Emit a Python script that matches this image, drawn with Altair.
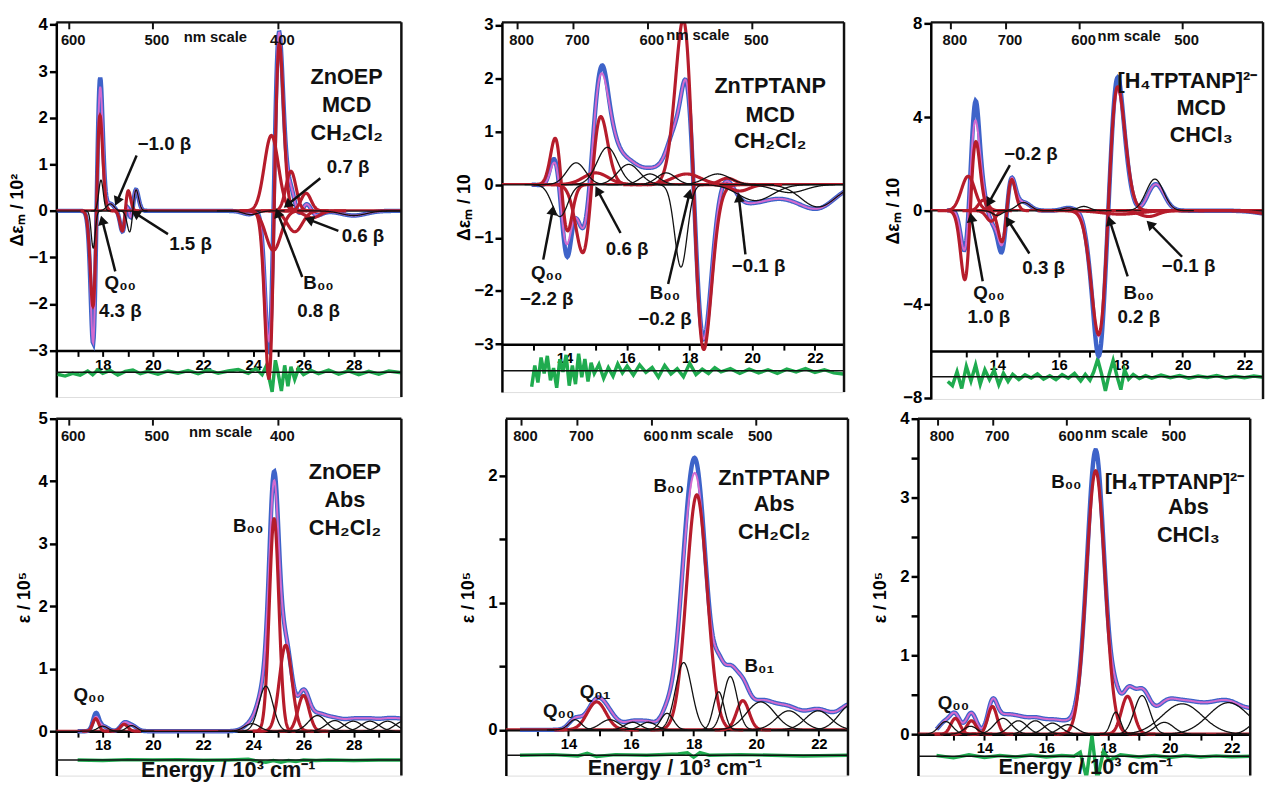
import numpy as np
import pandas as pd
import altair as alt

alt.data_transformers.disable_max_rows()

FONT = "Liberation Sans"
BLUE = "#3e63c9"
PINK = "#d36bcf"
RED = "#b61c2b"
GREEN = "#1fab4f"
BLACK = "#111111"

# ---------------- Panel 1 : ZnOEP MCD ----------------
p1_type   = ["A", "G", "G", "A", "A", "G", "A", "G", "G", "G", "G", "G", "G", "G", "G"]
p1_color  = ["red", "black", "black", "red", "black", "black", "red", "red", "red", "red", "red", "red", "red", "black", "black"]
p1_center = [17.75, 17.93, 17.62, 18.90, 19.20, 18.30, 24.83, 24.72, 24.80, 25.50, 26.10, 25.65, 26.35, 28.00, 23.90]
p1_amp    = [2.05, 0.66, -0.80, 0.43, 0.45, 0.15, 3.60, 1.62, -0.85, 0.85, 0.38, -0.45, -0.15, -0.10, -0.08]
p1_width  = [0.14, 0.09, 0.08, 0.12, 0.13, 0.15, 0.21, 0.28, 0.30, 0.20, 0.20, 0.30, 0.30, 0.50, 0.30]
p1_dev_center = [17.89, 24.60]
p1_dev_amp    = [0.20, -0.22]
p1_dev_width  = [0.06, 0.10]
p1_res_x = [16.2, 16.5, 16.8, 17.1, 17.4, 17.6, 17.8, 18.0, 18.3, 18.6, 18.9, 19.2, 19.5, 19.8, 20.2, 20.6,
            21.0, 21.4, 21.8, 22.2, 22.6, 23.0, 23.4, 23.8, 24.1, 24.35, 24.5, 24.62, 24.75, 24.88, 25.0, 25.12,
            25.25, 25.38, 25.5, 25.65, 25.8, 26.0, 26.3, 26.6, 27.0, 27.4, 27.8, 28.2, 28.6, 29.0, 29.4, 29.9]
p1_res_y = [-0.04, -0.08, -0.02, -0.06, 0.03, -0.05, 0.05, -0.02, 0.04, -0.06, 0.02, 0.05, -0.03, 0.02, -0.04, 0.03,
            -0.02, 0.04, -0.03, 0.05, -0.02, 0.03, 0.06, -0.02, 0.08, -0.05, 0.12, -0.10, -0.42, 0.26, -0.05, -0.40,
            0.15, -0.30, 0.12, -0.15, 0.08, -0.05, 0.04, -0.03, 0.05, -0.04, 0.03, -0.05, 0.02, -0.04, 0.03, -0.01]
p1_text   = ["ZnOEP", "MCD", "CH₂Cl₂", "−1.0 β", "1.5 β", "Q₀₀", "4.3 β", "0.7 β", "0.6 β", "B₀₀", "0.8 β", "nm scale"]
p1_text_x = [27.72, 27.72, 27.72, 20.46, 21.5, 18.7, 18.7, 27.78, 28.37, 26.6, 26.6, 22.49]
p1_text_y = [2.88, 2.28, 1.68, 1.44, -0.72, -1.56, -2.16, 0.94, -0.54, -1.56, -2.16, 3.73]
p1_text_size = [22, 22, 22, 19, 19, 19, 19, 19, 19, 19, 19, 15]
p1_arrow_x0 = [19.35, 20.60, 18.50, 26.67, 27.39, 25.95]
p1_arrow_y0 = [1.19, -0.50, -1.30, 0.70, -0.43, -1.42]
p1_arrow_x1 = [18.57, 19.30, 17.98, 25.36, 26.22, 24.97]
p1_arrow_y1 = [0.20, -0.05, -0.20, 0.13, -0.19, -0.04]
p1_nm = [600, 500, 400]

# ---------------- Panel 2 : ZnTPTANP MCD ----------------
p2_type   = ["A", "G", "A", "G", "G", "G", "G", "G", "G", "G", "A", "G", "G", "G", "G", "G", "G", "G"]
p2_color  = ["red", "black", "red", "black", "red", "black", "black", "black", "black", "black", "red", "red",
             "black", "red", "red", "black", "black", "black"]
p2_center = [13.90, 13.85, 14.87, 14.37, 15.00, 15.37, 16.05, 16.73, 17.25, 17.72, 18.12, 17.90, 18.89, 19.20, 19.60, 20.10, 21.20, 22.10]
p2_amp    = [-0.87, -0.60, 1.28, 0.41, 0.22, 0.70, 0.38, 0.20, 0.22, -1.55, -3.10, 0.20, 0.20, 0.12, -0.12, -0.30, -0.15, -0.42]
p2_width  = [0.20, 0.25, 0.29, 0.30, 0.40, 0.33, 0.35, 0.30, 0.30, 0.20, 0.33, 0.45, 0.40, 0.25, 0.30, 0.55, 0.50, 0.55]
p2_dev_center = [15.25, 14.12, 13.60]
p2_dev_amp    = [0.16, -0.25, 0.08]
p2_dev_width  = [0.12, 0.10, 0.10]
p2_res_x = [12.95, 13.05, 13.15, 13.25, 13.35, 13.45, 13.55, 13.65, 13.75, 13.85, 13.95, 14.05, 14.15, 14.25, 14.35,
            14.45, 14.55, 14.65, 14.75, 14.85, 14.95, 15.1, 15.25, 15.4, 15.55, 15.7, 15.85, 16.0, 16.2, 16.4, 16.6,
            16.8, 17.0, 17.2, 17.4, 17.6, 17.8, 18.0, 18.2, 18.4, 18.6, 18.8, 19.0, 19.3, 19.6, 19.9, 20.2, 20.5,
            20.8, 21.1, 21.4, 21.7, 22.0, 22.3, 22.6, 22.9]
p2_res_y = [-0.30, 0.10, -0.22, 0.25, -0.05, 0.28, -0.18, 0.05, -0.32, 0.22, -0.02, 0.30, -0.28, 0.10, -0.25,
            0.32, -0.12, 0.22, -0.20, 0.15, -0.05, 0.12, -0.14, 0.06, -0.10, 0.13, -0.04, 0.09, -0.08, 0.11, -0.03,
            0.06, -0.12, 0.10, -0.06, 0.04, -0.11, 0.14, -0.07, 0.03, -0.05, 0.06, -0.02, 0.04, -0.05, 0.03, -0.04,
            0.02, -0.05, 0.03, -0.02, 0.04, -0.03, 0.02, -0.04, -0.06]
p2_text   = ["ZnTPTANP", "MCD", "CH₂Cl₂", "Q₀₀", "−2.2 β", "0.6 β", "B₀₀", "−0.2 β", "−0.1 β", "nm scale"]
p2_text_x = [20.57, 20.57, 20.57, 13.43, 13.43, 16.0, 17.21, 17.21, 20.2, 18.26]
p2_text_y = [1.86, 1.31, 0.81, -1.66, -2.15, -1.22, -2.03, -2.52, -1.53, 2.81]
p2_text_size = [22, 22, 22, 19, 19, 19, 19, 19, 19, 15]
p2_arrow_x0 = [13.32, 15.79, 17.31, 19.78]
p2_arrow_y0 = [-1.41, -0.91, -1.87, -1.31]
p2_arrow_x1 = [13.62, 15.06, 17.99, 19.57]
p2_arrow_y1 = [-0.48, -0.11, -0.17, -0.24]
p2_nm = [800, 700, 600, 500]

# ---------------- Panel 3 : [H4TPTANP]2- MCD ----------------
p3_type   = ["A", "G", "G", "G", "A", "G", "G", "G", "G", "A", "G", "G", "G", "G"]
p3_color  = ["red", "red", "red", "red", "red", "black", "black", "black", "black", "red", "red", "red", "black", "red"]
p3_center = [13.13, 13.06, 13.55, 13.80, 14.31, 14.85, 14.00, 16.30, 16.80, 17.59, 18.00, 18.90, 19.10, 23.20]
p3_amp    = [2.95, 1.47, 0.45, -0.45, 1.33, 0.35, -0.20, 0.12, 0.18, 5.30, -0.15, -0.25, 1.35, -0.20]
p3_width  = [0.18, 0.22, 0.15, 0.15, 0.16, 0.22, 0.15, 0.20, 0.20, 0.31, 0.60, 0.30, 0.28, 0.60]
p3_dev_center = [17.90, 17.28, 13.32, 14.12]
p3_dev_amp    = [0.55, -0.85, 0.85, -0.30]
p3_dev_width  = [0.12, 0.12, 0.09, 0.10]
p3_res_x = [12.4, 12.55, 12.7, 12.85, 13.0, 13.15, 13.3, 13.45, 13.6, 13.75, 13.9, 14.05, 14.2, 14.35, 14.5,
            14.7, 14.9, 15.1, 15.3, 15.5, 15.7, 15.9, 16.1, 16.3, 16.5, 16.7,
            16.85, 17.0, 17.12, 17.25, 17.38, 17.5, 17.62, 17.75, 17.88, 18.0, 18.12, 18.25,
            18.4, 18.6, 18.8, 19.0, 19.3, 19.6, 19.9, 20.2, 20.5, 20.8, 21.1, 21.4, 21.7, 22.0, 22.3, 22.6]
p3_res_y = [-0.20, -0.38, 0.22, -0.50, 0.45, -0.18, 0.50, -0.32, 0.30, -0.12, 0.28, -0.34, 0.15, -0.20, 0.10,
            -0.12, 0.08, -0.05, 0.12, -0.10, 0.04, -0.12, 0.09, -0.06, 0.14, -0.18,
            0.10, -0.15, 0.20, 0.75, 0.10, -0.60, 0.10, 0.70, 0.00, -0.55, 0.30, -0.10,
            0.10, -0.08, 0.05, -0.06, 0.07, -0.04, 0.05, -0.06, 0.03, -0.03, 0.05, -0.05, 0.02, -0.04, 0.03, -0.02]
p3_text   = ["[H₄TPTANP]²⁻", "MCD", "CHCl₃", "−0.2 β", "0.3 β", "Q₀₀", "1.0 β", "B₀₀", "0.2 β", "−0.1 β", "nm scale"]
p3_text_x = [20.15, 20.6, 20.6, 15.09, 15.5, 13.73, 13.73, 18.58, 18.58, 20.19, 18.27]
p3_text_y = [5.52, 4.40, 3.21, 2.44, -2.46, -3.51, -4.56, -3.51, -4.56, -2.39, 7.46]
p3_text_size = [22, 22, 22, 19, 19, 19, 19, 19, 19, 19, 15]
p3_arrow_x0 = [14.41, 15.04, 13.53, 18.22, 19.98]
p3_arrow_y0 = [1.95, -1.83, -3.02, -2.81, -1.97]
p3_arrow_x1 = [13.73, 14.36, 13.16, 17.64, 18.94]
p3_arrow_y1 = [0.34, -0.43, -0.29, -0.43, -0.57]
p3_nm = [800, 700, 600, 500]

# ---------------- Panel 4 : ZnOEP Abs ----------------
p4_type   = ["G"] * 15
p4_color  = ["red", "black", "red", "black", "black", "black", "red", "red", "red", "black", "black", "black", "black", "black", "black"]
p4_center = [17.72, 18.00, 18.85, 19.15, 23.95, 24.50, 24.83, 25.29, 26.00, 26.55, 27.25, 27.98, 28.65, 29.35, 30.00]
p4_amp    = [0.20, 0.08, 0.11, 0.09, 0.12, 0.72, 3.40, 1.375, 0.57, 0.25, 0.17, 0.16, 0.16, 0.16, 0.16]
p4_width  = [0.12, 0.20, 0.15, 0.20, 0.30, 0.28, 0.19, 0.25, 0.22, 0.35, 0.35, 0.35, 0.35, 0.35, 0.35]
p4_dev_center = [24.83, 17.74]
p4_dev_amp    = [0.14, 0.06]
p4_dev_width  = [0.15, 0.10]
p4_res_x = [17.0, 18.0, 19.0, 20.0, 21.0, 22.0, 23.0, 23.8, 24.2, 24.5, 24.8, 25.1, 25.4, 25.7, 26.0, 26.5, 27.0, 28.0, 29.0, 29.9]
p4_res_y = [0.0, -0.01, 0.005, 0.0, 0.005, -0.005, 0.0, 0.01, -0.02, -0.035, -0.01, -0.035, -0.01, -0.025, 0.0, -0.01, 0.0, -0.01, 0.0, 0.0]
p4_text   = ["ZnOEP", "Abs", "CH₂Cl₂", "B₀₀", "Q₀₀", "Energy / 10³ cm⁻¹", "nm scale"]
p4_text_x = [27.65, 27.65, 27.65, 23.8, 17.46, 23.0, 22.7]
p4_text_y = [4.14, 3.69, 3.25, 3.28, 0.57, -0.62, 4.78]
p4_text_size = [22, 22, 22, 19, 19, 22, 15]
p4_arrow_x0, p4_arrow_y0, p4_arrow_x1, p4_arrow_y1 = [], [], [], []
p4_nm = [600, 500, 400]

# ---------------- Panel 5 : ZnTPTANP Abs ----------------
p5_type   = ["G"] * 15
p5_color  = ["black", "red", "black", "black", "black", "black", "black", "red", "black", "black", "red", "black", "black", "black", "black"]
p5_center = [14.21, 14.90, 15.32, 16.05, 16.55, 17.15, 17.68, 18.10, 18.80, 19.17, 19.57, 20.14, 21.04, 21.98, 23.05]
p5_amp    = [0.08, 0.22, 0.08, 0.06, 0.06, 0.13, 0.53, 1.85, 0.30, 0.42, 0.23, 0.22, 0.15, 0.15, 0.20]
p5_width  = [0.20, 0.30, 0.30, 0.25, 0.25, 0.20, 0.26, 0.33, 0.17, 0.22, 0.20, 0.45, 0.40, 0.40, 0.40]
p5_dev_center = [18.00]
p5_dev_amp    = [0.12]
p5_dev_width  = [0.20]
p5_res_x = [12.45, 13.5, 14.3, 14.6, 14.9, 15.5, 16.5, 17.5, 17.8, 18.0, 18.2, 18.5, 19.5, 20.5, 21.5, 22.93]
p5_res_y = [0.0, 0.005, -0.005, 0.015, -0.01, 0.005, 0.0, 0.01, 0.02, -0.015, 0.02, 0.0, 0.005, 0.0, -0.005, 0.0]
p5_text   = ["ZnTPTANP", "Abs", "CH₂Cl₂", "B₀₀", "B₀₁", "Q₀₁", "Q₀₀", "Energy / 10³ cm⁻¹", "nm scale"]
p5_text_x = [20.57, 20.57, 20.57, 17.2, 20.1, 14.85, 13.69, 17.4, 18.26]
p5_text_y = [1.98, 1.78, 1.56, 1.92, 0.50, 0.30, 0.15, -0.30, 2.33]
p5_text_size = [22, 22, 22, 19, 19, 19, 19, 22, 15]
p5_arrow_x0, p5_arrow_y0, p5_arrow_x1, p5_arrow_y1 = [], [], [], []
p5_nm = [800, 700, 600, 500]

# ---------------- Panel 6 : [H4TPTANP]2- Abs ----------------
p6_type   = ["G"] * 18
p6_color  = ["black", "red", "black", "red", "red", "black", "black", "black", "black", "black", "red", "black", "red",
             "black", "black", "black", "black", "black"]
p6_center = [12.75, 13.06, 13.55, 13.58, 14.26, 14.60, 15.10, 15.65, 16.20, 16.70, 17.60, 18.25, 18.63, 19.10, 19.82, 20.40, 21.90, 22.85]
p6_amp    = [0.16, 0.20, 0.10, 0.17, 0.35, 0.20, 0.17, 0.17, 0.14, 0.12, 3.34, 0.28, 0.48, 0.49, 0.15, 0.385, 0.40, 0.15]
p6_width  = [0.22, 0.15, 0.22, 0.15, 0.15, 0.28, 0.28, 0.28, 0.28, 0.28, 0.30, 0.15, 0.20, 0.25, 0.30, 0.65, 0.65, 0.30]
p6_dev_center = [17.60]
p6_dev_amp    = [0.26]
p6_dev_width  = [0.15]
p6_res_x = [12.45, 13.0, 13.5, 14.0, 14.5, 15.0, 15.5, 16.0, 16.5, 16.9, 17.1, 17.3, 17.48, 17.65, 17.85, 18.05,
            18.4, 19.0, 19.5, 20.0, 20.5, 21.0, 21.5, 22.0, 22.6]
p6_res_y = [0.01, -0.02, 0.02, -0.015, 0.01, -0.01, 0.015, -0.01, 0.01, 0.0, 0.05, -0.27, 0.26, -0.30, 0.06, -0.05,
            0.02, -0.01, 0.01, -0.015, 0.01, -0.01, 0.005, -0.005, 0.0]
p6_text   = ["[H₄TPTANP]²⁻", "Abs", "CHCl₃", "B₀₀", "Q₀₀", "Energy / 10³ cm⁻¹", "nm scale"]
p6_text_x = [20.15, 20.6, 20.6, 16.65, 13.0, 17.28, 18.27]
p6_text_y = [3.19, 2.88, 2.52, 3.19, 0.40, -0.42, 3.82]
p6_text_size = [22, 22, 22, 19, 19, 22, 15]
p6_arrow_x0, p6_arrow_y0, p6_arrow_x1, p6_arrow_y1 = [], [], [], []
p6_nm = [800, 700, 600, 500]


def band(kind, c, a, s, x):
    z = (x - c) / s
    if kind == "A":
        return a * z * np.exp(0.5 - 0.5 * z * z)
    return a * np.exp(-0.5 * z * z)


def make_panel(cfg):
    x0, x1 = cfg["xdom"]
    y0, y1 = cfg["ydom"]
    W, H = cfg["w"], cfg["h"]
    kx = W / (x1 - x0)
    ky = H / (y1 - y0)
    step = 0.02

    xs = np.arange(cfg["span"][0], cfg["span"][1] + 1e-9, step)
    fit = np.zeros_like(xs)
    red_rows, blk_rows = [], []
    for i, (t, col, c, a, s) in enumerate(zip(cfg["type"], cfg["color"], cfg["center"], cfg["amp"], cfg["width"])):
        fit += band(t, c, a, s, xs)
        lo, hi = max(x0, c - 4.5 * s), min(x1, c + 4.5 * s)
        xc = np.arange(lo, hi + 1e-9, step / 2)
        yc = band(t, c, a, s, xc)
        tgt = red_rows if col == "red" else blk_rows
        tgt.extend({"x": round(float(u), 4), "y": round(float(v), 4), "id": i} for u, v in zip(xc, yc))
    expv = fit.copy()
    for c, a, s in zip(cfg["dev_c"], cfg["dev_a"], cfg["dev_s"]):
        expv += band("G", c, a, s, xs)
    curves = pd.DataFrame({"x": np.round(xs, 4), "exp": np.round(expv, 4), "fit": np.round(fit, 4)})

    xsc = alt.Scale(domain=[x0, x1], nice=False, zero=False)
    ysc = alt.Scale(domain=[y0, y1], nice=False, zero=False)
    off = -H * (cfg["sep"] - y0) / (y1 - y0)
    xax = alt.Axis(values=cfg["xticks"], labelExpr="datum.value % 2 == 0 ? datum.label : ''",
                   offset=off, title=None, grid=False, domainColor="black", domainWidth=2.5,
                   tickColor="black", tickWidth=2, tickSize=6, labelFont=FONT, labelFontWeight="bold",
                   labelFontSize=15, labelColor="black", labelPadding=1, labelFlush=False)
    yax = alt.Axis(values=cfg["yticks"], labelExpr=cfg["ylab"], title=cfg["ytitle"], grid=False,
                   domainColor="black", domainWidth=2.5, tickColor="black", tickWidth=2.5, tickSize=7,
                   labelFont=FONT, labelFontWeight="bold", labelFontSize=17, labelColor="black",
                   labelPadding=2, titleFont=FONT, titleFontWeight="bold", titleFontSize=18,
                   titleColor="black", titlePadding=cfg["tpad"])

    def X(f="x"):
        return alt.X(f"{f}:Q", scale=xsc, axis=xax)

    def Y(f="y"):
        return alt.Y(f"{f}:Q", scale=ysc, axis=yax)

    layers = []
    res = pd.DataFrame({"x": cfg["res_x"], "y": [cfg["res_off"] + v for v in cfg["res_y"]]})
    layers.append(alt.Chart(res).mark_line(color=GREEN, strokeWidth=3.5, clip=True).encode(X(), Y()))
    layers.append(alt.Chart(pd.DataFrame({"y": [cfg["res_off"]]})).mark_rule(color=BLACK, strokeWidth=1.5).encode(Y()))
    layers.append(alt.Chart(curves).mark_line(color=BLUE, strokeWidth=4.5, clip=True).encode(X(), Y("exp")))
    layers.append(alt.Chart(curves).mark_line(color=PINK, strokeWidth=2.0, clip=True).encode(X(), Y("fit")))
    layers.append(alt.Chart(pd.DataFrame({"y": [0.0]})).mark_rule(color=BLACK, strokeWidth=1.6).encode(Y()))
    layers.append(alt.Chart(pd.DataFrame({"y": [0.0]})).mark_rule(color=RED, strokeWidth=1.2, yOffset=-1).encode(Y()))
    if red_rows:
        layers.append(alt.Chart(pd.DataFrame(red_rows)).mark_line(color=RED, strokeWidth=3.2, clip=True)
                      .encode(X(), Y(), detail="id:N"))
    if blk_rows:
        layers.append(alt.Chart(pd.DataFrame(blk_rows)).mark_line(color=BLACK, strokeWidth=1.3, clip=True)
                      .encode(X(), Y(), detail="id:N"))
    # frame: top and right
    layers.append(alt.Chart(pd.DataFrame({"y": [y1]})).mark_rule(color=BLACK, strokeWidth=2.5).encode(Y()))
    layers.append(alt.Chart(pd.DataFrame({"x": [x1]})).mark_rule(color=BLACK, strokeWidth=2.5).encode(X()))
    # nm scale ticks and labels
    nm = cfg["nm"]
    nmx = [1e4 / v for v in nm]
    nm_df = pd.DataFrame({"x": nmx, "y": [y1] * len(nm), "y2": [y1 - 7 / ky] * len(nm),
                          "t": [str(v) for v in nm], "ly": [y1 - 18 / ky] * len(nm)})
    layers.append(alt.Chart(nm_df).mark_rule(color=BLACK, strokeWidth=2).encode(X(), Y(), alt.Y2("y2:Q")))
    layers.append(alt.Chart(nm_df).mark_text(font=FONT, fontWeight="bold", fontSize=15, color=BLACK, dx=4)
                  .encode(X(), Y("ly"), text="t:N"))
    # texts
    tdf = pd.DataFrame({"x": cfg["tx"], "y": cfg["ty"], "t": cfg["text"], "fs": cfg["tsize"]})
    layers.append(alt.Chart(tdf).mark_text(font=FONT, fontWeight="bold", color=BLACK, align="center", baseline="middle")
                  .encode(X(), Y(), text="t:N", size=alt.Size("fs:Q", scale=None)))
    # arrows
    if cfg["ax0"]:
        ang = []
        for a0, b0, a1, b1 in zip(cfg["ax0"], cfg["ay0"], cfg["ax1"], cfg["ay1"]):
            dx = (a1 - a0) * kx
            dy = -(b1 - b0) * ky
            ang.append(float(np.degrees(np.arctan2(dx, -dy)) % 360))
        adf = pd.DataFrame({"x": cfg["ax0"], "y": cfg["ay0"], "x2": cfg["ax1"], "y2": cfg["ay1"], "ang": ang})
        layers.append(alt.Chart(adf).mark_rule(color=BLACK, strokeWidth=2.5)
                      .encode(X(), Y(), alt.X2("x2:Q"), alt.Y2("y2:Q")))
        layers.append(alt.Chart(adf).mark_point(shape="triangle-up", filled=True, size=120, color=BLACK, opacity=1)
                      .encode(X("x2"), Y("y2"), angle=alt.Angle("ang:Q", scale=None)))
    return alt.layer(*layers).properties(width=W, height=H)


def cfg_from(prefix, g, **kw):
    d = dict(type=g[prefix + "_type"], color=g[prefix + "_color"], center=g[prefix + "_center"],
             amp=g[prefix + "_amp"], width=g[prefix + "_width"], dev_c=g[prefix + "_dev_center"],
             dev_a=g[prefix + "_dev_amp"], dev_s=g[prefix + "_dev_width"], res_x=g[prefix + "_res_x"],
             res_y=g[prefix + "_res_y"], text=g[prefix + "_text"], tx=g[prefix + "_text_x"],
             ty=g[prefix + "_text_y"], tsize=g[prefix + "_text_size"], ax0=g[prefix + "_arrow_x0"],
             ay0=g[prefix + "_arrow_y0"], ax1=g[prefix + "_arrow_x1"], ay1=g[prefix + "_arrow_y1"],
             nm=g[prefix + "_nm"])
    d.update(kw)
    return d


G = globals()
INT = "datum.label"
HALF = "datum.value % 1 == 0 ? format(datum.value, 'd') : ''"

c1 = cfg_from("p1", G, xdom=(16.15, 29.9), ydom=(-4.0, 4.05), w=350, h=380, span=(16.2, 29.9), sep=-3,
              res_off=-3.47, xticks=list(range(17, 30)), yticks=list(range(-3, 5)), ylab=INT,
              ytitle="Δεₘ / 10²", tpad=2)
c2 = cfg_from("p2", G, xdom=(12.0, 22.93), ydom=(-3.9, 3.05), w=347, h=375, span=(12.95, 22.93), sep=-3,
              res_off=-3.5, xticks=list(range(13, 23)), yticks=list(range(-3, 4)), ylab=INT,
              ytitle="Δεₘ / 10", tpad=0)
c3 = cfg_from("p3", G, xdom=(11.85, 22.6), ydom=(-8.05, 8.05), w=337, h=382, span=(12.38, 22.6), sep=-6,
              res_off=-7.1, xticks=list(range(13, 23)), yticks=[-8, -4, 0, 4, 8], ylab=INT,
              ytitle="Δεₘ / 10", tpad=0)
c4 = cfg_from("p4", G, xdom=(16.15, 29.9), ydom=(-0.71, 5.0), w=350, h=362, span=(17.0, 29.9), sep=0,
              res_off=-0.46, xticks=list(range(17, 30)), yticks=[0, 1, 2, 3, 4, 5], ylab=INT,
              ytitle="ε / 10⁵", tpad=5)
c5 = cfg_from("p5", G, xdom=(12.0, 22.93), ydom=(-0.36, 2.45), w=347, h=362, span=(12.45, 22.93), sep=0,
              res_off=-0.2, xticks=list(range(13, 23)), yticks=[0, 0.5, 1, 1.5, 2], ylab=HALF,
              ytitle="ε / 10⁵", tpad=10)
c6 = cfg_from("p6", G, xdom=(11.85, 22.6), ydom=(-0.525, 4.0), w=337, h=362, span=(12.45, 22.6), sep=0,
              res_off=-0.28, xticks=list(range(13, 23)), yticks=[0, 0.5, 1, 1.5, 2, 2.5, 3, 3.5, 4], ylab=HALF,
              ytitle="ε / 10⁵", tpad=10)

row1 = alt.hconcat(alt.hconcat(make_panel(c1), make_panel(c2), spacing=53), make_panel(c3), spacing=39)
row2 = alt.hconcat(alt.hconcat(make_panel(c4), make_panel(c5), spacing=57), make_panel(c6), spacing=22)

chart = (alt.vconcat(row1, row2, spacing=2)
         .properties(padding={"left": 0, "top": 0, "right": 0, "bottom": 0})
         .configure_view(stroke=None)
         .configure(font=FONT))

chart.save("out.html", embed_options={"renderer": "svg", "actions": False})
